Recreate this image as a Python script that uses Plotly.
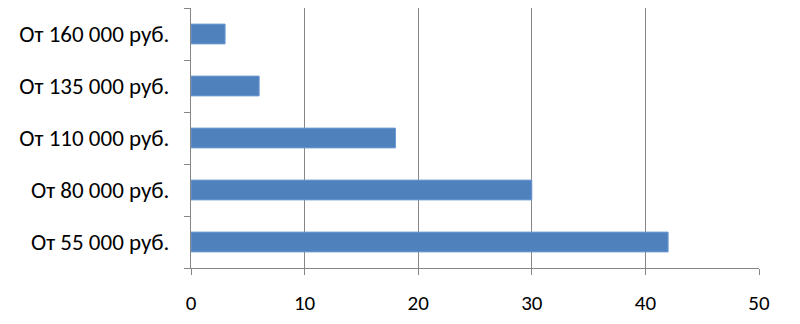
import plotly.graph_objects as go

categories = ["От 55 000 руб.", "От 80 000 руб.", "От 110 000 руб.", "От 135 000 руб.", "От 160 000 руб."]
values = [42, 30, 18, 6, 3]
x_ticks = [0, 10, 20, 30, 40, 50]

FONT = "Carlito, Calibri, Lato, sans-serif"

fig = go.Figure(
    go.Bar(
        x=values,
        y=categories,
        orientation="h",
        width=0.38,
        marker=dict(color="#4F81BD", line=dict(color="#6F9AD0", width=1)),
    )
)

fig.update_layout(
    width=800,
    height=324,
    margin=dict(l=191, r=41, t=8, b=53),
    paper_bgcolor="white",
    plot_bgcolor="white",
    showlegend=False,
    font=dict(family=FONT, size=23, color="#000000"),
)

fig.update_xaxes(
    range=[0, 50],
    tickvals=x_ticks,
    showgrid=True,
    gridcolor="#868686",
    gridwidth=1,
    showline=True,
    linecolor="#868686",
    linewidth=1,
    ticks="outside",
    ticklen=6,
    tickcolor="#868686",
    zeroline=False,
    ticklabelstandoff=10,
    tickfont=dict(size=21),
)

fig.update_yaxes(
    type="category",
    categoryorder="array",
    categoryarray=categories,
    range=[-0.5, 4.5],
    showline=True,
    linecolor="#868686",
    linewidth=1,
    ticks="outside",
    tickson="boundaries",
    ticklen=6,
    tickcolor="#868686",
    showgrid=False,
    ticklabelstandoff=16,
    tickfont=dict(size=23),
)

fig.write_html("out.html")
